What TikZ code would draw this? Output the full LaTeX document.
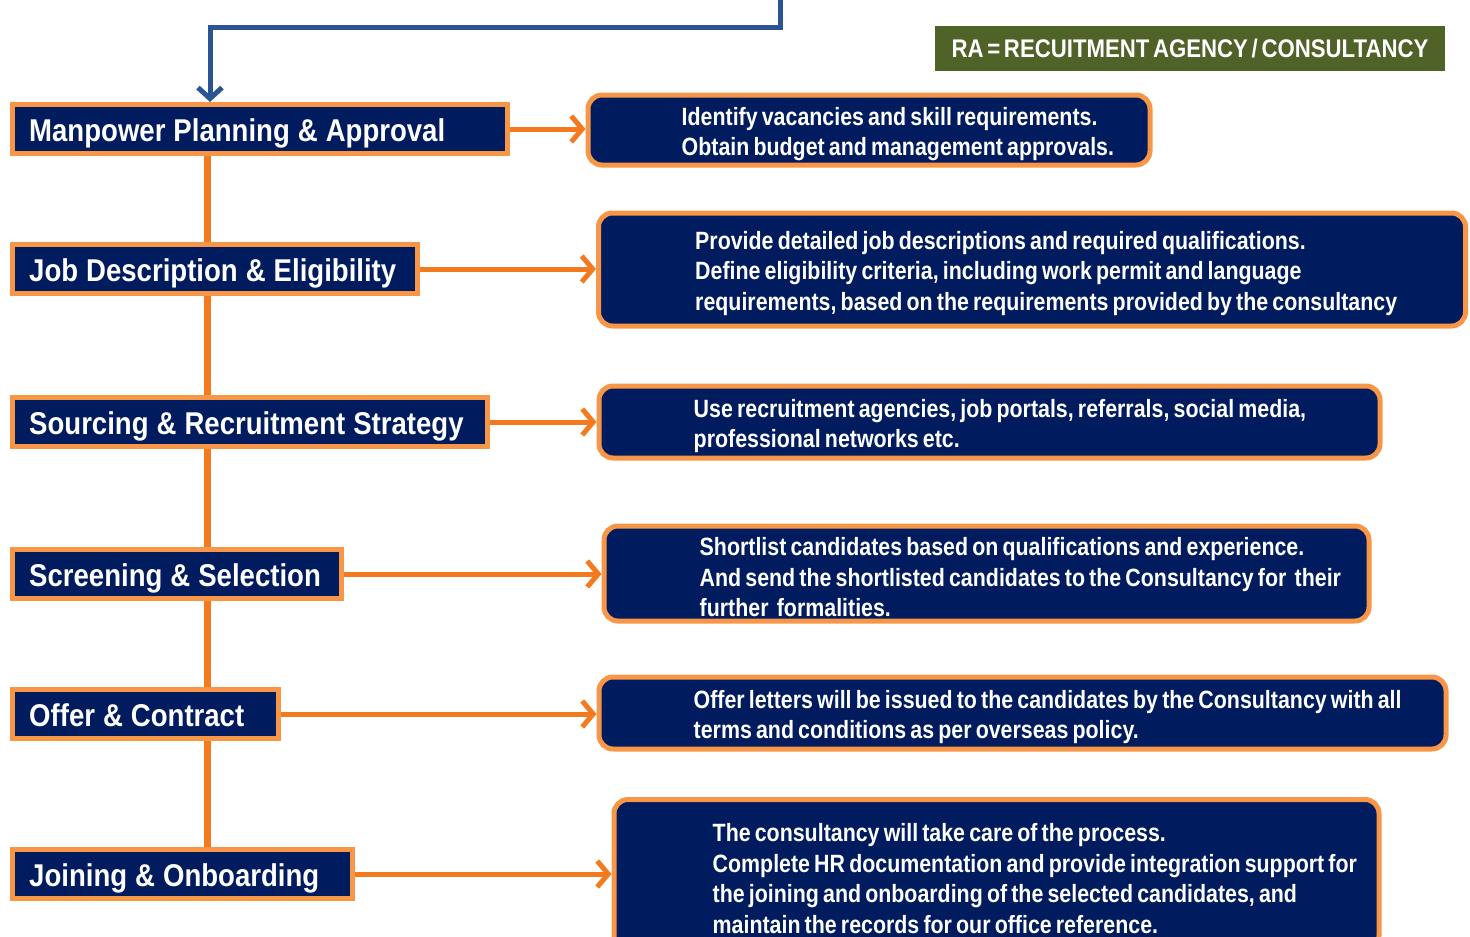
\documentclass[tikz,border=0pt]{standalone}
\usepackage{fontspec}
\setmainfont[FakeStretch=0.87,WordSpace=0.6]{Liberation Sans}
\newfontfamily\stagefont[FakeStretch=0.875]{Liberation Sans}
\newfontfamily\descfont[FakeStretch=0.855,WordSpace=0.7]{Liberation Sans}
\newcommand\stagegap{\spaceskip 8pt plus 1pt minus 1pt\relax}
\usetikzlibrary{arrows.meta, positioning}

\definecolor{navy}{HTML}{001C5E}
\definecolor{orangeedge}{HTML}{F79646}
\definecolor{orangeline}{HTML}{F47A1F}
\definecolor{feedblue}{HTML}{2B5592}
\definecolor{olive}{HTML}{4F6228}

\begin{document}
\begin{tikzpicture}[x=1pt,y=1pt,
  stage/.style={draw=orangeedge,line width=5pt,fill=navy,minimum height=49pt},
  stagetext/.style={text=white,anchor=west,inner sep=0pt,text height=29pt,text depth=4pt,
    font={\stagefont\fontsize{31.5}{36}\selectfont\bfseries\stagegap}},
  detail/.style={draw=orangeedge,line width=5pt,fill=navy,rounded corners=14pt},
  detailtext/.style={text=white,align=left,anchor=west,inner sep=0pt,yshift=-4pt,
    font=\descfont\fontsize{25}{30.5}\selectfont\bfseries},
  flow/.style={orangeline,line width=5pt,-{Straight Barb[length=11pt,width=26pt,line width=5pt]}},
  spine/.style={orangeline,line width=7pt},
  feed/.style={feedblue,line width=5pt,-{Straight Barb[length=11pt,width=24pt,line width=5pt]}}]
  \useasboundingbox (0,0) rectangle (1470,-937);
  \clip (0,0) rectangle (1470,-937);

  % left column
  \coordinate (top) at (207,0);
  \node[stage, minimum width=495pt] (s1) at (260,-129) {};
  \node[stage, minimum width=405pt] (s2) at (215,-269) {};
  \node[stage, minimum width=475pt] (s3) at (250,-422) {};
  \node[stage, minimum width=329pt] (s4) at (177,-574) {};
  \node[stage, minimum width=266pt] (s5) at (145.5,-714) {};
  \node[stage, minimum width=340pt] (s6) at (182.5,-874) {};
  \node[stagetext] (l1) at ([xshift=19pt]s1.west) {Manpower Planning \& Approval};
  \node[stagetext] (l2) at ([xshift=19pt]s2.west) {Job Description \& Eligibility};
  \node[stagetext] (l3) at ([xshift=19pt]s3.west) {Sourcing \& Recruitment Strategy};
  \node[stagetext] (l4) at ([xshift=19pt]s4.west) {Screening \& Selection};
  \node[stagetext] (l5) at ([xshift=19pt]s5.west) {Offer \& Contract};
  \node[stagetext] (l6) at ([xshift=19pt]s6.west) {Joining \& Onboarding};
  \foreach \i [evaluate=\i as \j using int(\i+1)] in {1,...,5}
    \draw[spine] (s\i.south -| top) -- (s\j.north -| top);

  % right column
  \node[detail, minimum width=562pt, minimum height=70pt] (d1) at (869,-130) {};
  \node[detail, minimum width=867pt, minimum height=113pt] (d2) at (1032,-269.5) {};
  \node[detail, minimum width=781pt, minimum height=72pt] (d3) at (989.5,-422) {};
  \node[detail, minimum width=765pt, minimum height=95pt] (d4) at (986.5,-573.5) {};
  \node[detail, minimum width=847pt, minimum height=72pt] (d5) at (1022.5,-713) {};
  \node[detail, minimum width=765pt, minimum height=150pt] (d6) at (996.5,-874.5) {};

  \node[detailtext] (t1) at ([xshift=96pt]d1.west)
    {Identify vacancies and skill requirements.\\Obtain budget and management approvals.};
  \node[detailtext] (t2) at ([xshift=99pt]d2.west)
    {Provide detailed job descriptions and required qualifications.\\
     Define eligibility criteria, including work permit and language\\
     requirements, based on the requirements provided by the consultancy};
  \node[detailtext] (t3) at ([xshift=97pt]d3.west)
    {Use recruitment agencies, job portals, referrals, social media,\\professional networks etc.};
  \node[detailtext] (t4) at ([xshift=98pt]d4.west)
    {Shortlist candidates based on qualifications and experience.\\
     And send the shortlisted candidates to the Consultancy for\ \ their\\
     further\ \ formalities.};
  \node[detailtext] (t5) at ([xshift=97pt]d5.west)
    {Offer letters will be issued to the candidates by the Consultancy with all\\
     terms and conditions as per overseas policy.};
  \node[detailtext] (t6) at ([xshift=101pt]d6.west)
    {The consultancy will take care of the process.\\
     Complete HR documentation and provide integration support for\\
     the joining and onboarding of the selected candidates, and\\
     maintain the records for our office reference.};

  % legend
  \node[fill=olive, text=white, minimum width=510pt, minimum height=45pt,
    font=\fontsize{25.5}{28}\selectfont\bfseries] (ra) at (1190,-48.5)
    {RA = RECUITMENT AGENCY / CONSULTANCY};

  % connectors
  \foreach \i in {1,...,6}
    \draw[flow] (s\i.east) -- (s\i.east -| d\i.west);
  \coordinate (bend) at (210,-27);
  \coordinate (feedin) at (780,0);
  \draw[feed] (feedin) |- (bend) -- (bend |- s1.north);
\end{tikzpicture}
\end{document}
